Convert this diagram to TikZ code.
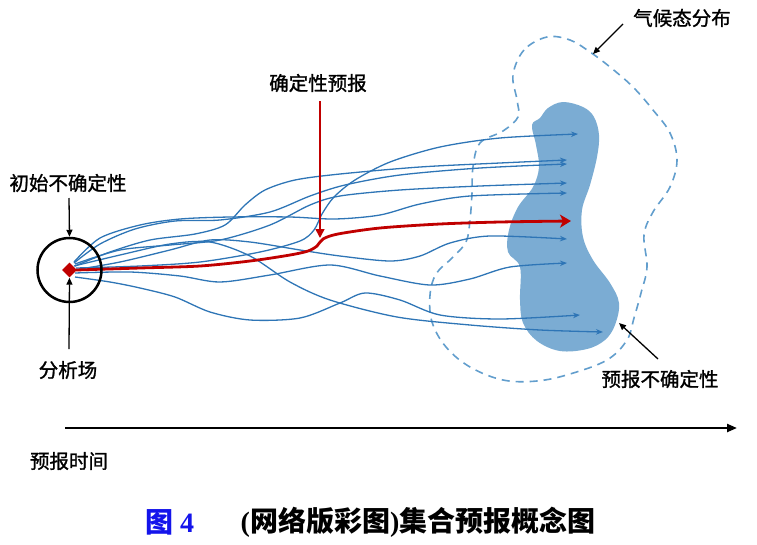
\documentclass[tikz,border=0pt]{standalone}
\usepackage{fontspec}
\usetikzlibrary{arrows.meta,shapes.geometric}
\newfontfamily\cjk{Noto Sans CJK SC}
\newfontfamily\cjkm[FakeBold=1.3]{Noto Sans CJK SC}
\newfontfamily\serifb{Liberation Serif}
\definecolor{trajblue}{RGB}{46,117,182}
\definecolor{blobfill}{RGB}{123,172,211}
\definecolor{dashblue}{RGB}{98,158,205}
\definecolor{detred}{RGB}{192,0,0}
\definecolor{capblue}{RGB}{20,20,235}
\tikzset{
  traj/.style={draw=trajblue, line width=1.3pt, -{Stealth[length=7pt,width=5.5pt]}},
  detpath/.style={draw=detred, line width=2.8pt, -{Stealth[length=11pt,width=13pt,inset=3pt]}},
  lbl/.style={font=\cjkm\fontsize{19.5}{21}\selectfont, inner sep=1pt},
  note/.style={draw=black, line width=1.3pt, -{Triangle[length=7pt,width=6pt]}},
}
\begin{document}
\begin{tikzpicture}[x=1pt,y=-1pt]
\useasboundingbox (0,0) rectangle (757,544);
% forecast uncertainty blob
\fill[blobfill] plot[smooth cycle, tension=0.6] coordinates {(532,125) (540,118) (548,108) (563,102) (583,107) (594,117) (599,135) (597,157) (590,185) (582,210) (583,237) (593,260) (610,283) (619,303) (615,325) (605,340) (587,349) (560,351) (537,341) (523,323) (520,300) (520,267) (508,252) (509,230) (518,207) (533,187) (539,167) (536,145)};
% climate distribution
\draw[dashblue, line width=1.6pt, dash pattern=on 8pt off 6pt] plot[smooth cycle, tension=0.6] coordinates {(547,37) (524,50) (513,75) (517,100) (518,117) (503,131) (480,143) (473,167) (472,193) (470,220) (466,242) (452,258) (436,274) (430,295) (432,322) (446,347) (470,367) (503,380) (537,381) (570,374) (607,360) (627,340) (634,318) (641,293) (647,267) (644,235) (653,212) (670,187) (677,160) (670,133) (653,110) (633,87) (610,67) (590,52) (570,40)};
% ensemble trajectories
\draw[traj] plot[smooth] coordinates {(76,268) (140,266) (200,262) (260,252) (300,241) (314,230) (322,214) (334,197) (355,180) (390,162) (440,147) (500,138) (578,134)};
\draw[traj] plot[smooth] coordinates {(75,266) (110,252) (150,240) (195,234) (225,225) (245,205) (265,190) (295,180) (340,174) (420,167) (500,163) (567,160)};
\draw[traj] plot[smooth] coordinates {(74,263) (100,244) (135,229) (175,221) (220,220) (270,212) (310,196) (345,185) (400,175) (480,168) (567,164)};
\draw[traj] plot[smooth] coordinates {(75,264) (120,250) (170,245) (220,240) (270,225) (310,205) (340,196) (400,190) (480,186) (567,183)};
\draw[traj] plot[smooth] coordinates {(74,262) (100,238) (140,225) (180,219) (230,217) (290,217) (335,219) (380,215) (420,204) (470,196) (567,193)};
\draw[traj] plot[smooth] coordinates {(74,270) (120,262) (170,250) (210,240) (250,242) (300,250) (340,256) (390,261) (420,256) (450,243) (490,236) (567,239)};
\draw[traj] plot[smooth] coordinates {(75,273) (130,272) (180,276) (220,282) (270,275) (330,265) (380,276) (430,285) (470,279) (510,267) (567,263)};
\draw[traj] plot[smooth] coordinates {(75,277) (110,282) (140,288) (175,297) (210,312) (250,320) (300,318) (340,303) (365,293) (400,300) (440,315) (500,319) (580,315)};
\draw[traj] plot[smooth] coordinates {(74,266) (120,255) (170,244) (210,242) (250,256) (290,282) (330,300) (397,317) (470,325) (540,330) (603,332)};
% deterministic forecast
\draw[detpath] plot[smooth, tension=0.5] coordinates {(76,270) (140,268) (200,266) (250,261) (290,255) (308,251) (317,246) (323,239) (338,234) (380,228) (440,224) (500,222) (571,221)};
% initial uncertainty circle and analysis
\node[circle, draw=black, line width=2.5pt, minimum size=64pt, inner sep=0] (ic) at (69.5,270) {};
\node[diamond, fill=detred, minimum size=15pt, inner sep=0] (an) at (69.5,270) {};
% labels
\node[lbl] (l1) at (68,183) {初始不确定性};
\node[lbl] (l2) at (68,370) {分析场};
\node[lbl] (l3) at (318,83) {确定性预报};
\node[lbl] (l4) at (682,18) {气候态分布};
\node[lbl] (l5) at (660,379) {预报不确定性};
\node[lbl] (l6) at (69,461) {预报时间};
% annotation arrows
\coordinate (l1s) at (69,198);
\coordinate (l2s) at (69,349);
\coordinate (l3s) at (320,101);
\coordinate (dett) at (320,238);
\coordinate (l4s) at (623,24);
\coordinate (cdt) at (593,54);
\coordinate (l5s) at (658,359);
\coordinate (fut) at (619,323);
\draw[note] (l1s) -- (ic.north);
\draw[note] (l2s) -- (an.south);
\draw[draw=detred, line width=1.6pt, -{Triangle[length=9pt,width=9pt]}] (l3s) -- (dett);
\draw[note] (l4s) -- (cdt);
\draw[note] (l5s) -- (fut);
% time axis
\coordinate (t0) at (65,428);
\coordinate (t1) at (737,428);
\draw[line width=2.2pt, -{Triangle[length=10pt,width=8pt]}] (t0) -- (t1);
% caption
\node[font=\cjk\bfseries\fontsize{28}{30}\selectfont, text=capblue, inner sep=0] (fig) at (170,522) {图 {\serifb\bfseries 4}};
\node[font=\cjk\bfseries\fontsize{28}{30}\selectfont, inner sep=0] (cap) at (418,522) {{\serifb\bfseries(}网络版彩图{\serifb\bfseries)}集合预报概念图};
\end{tikzpicture}
\end{document}
